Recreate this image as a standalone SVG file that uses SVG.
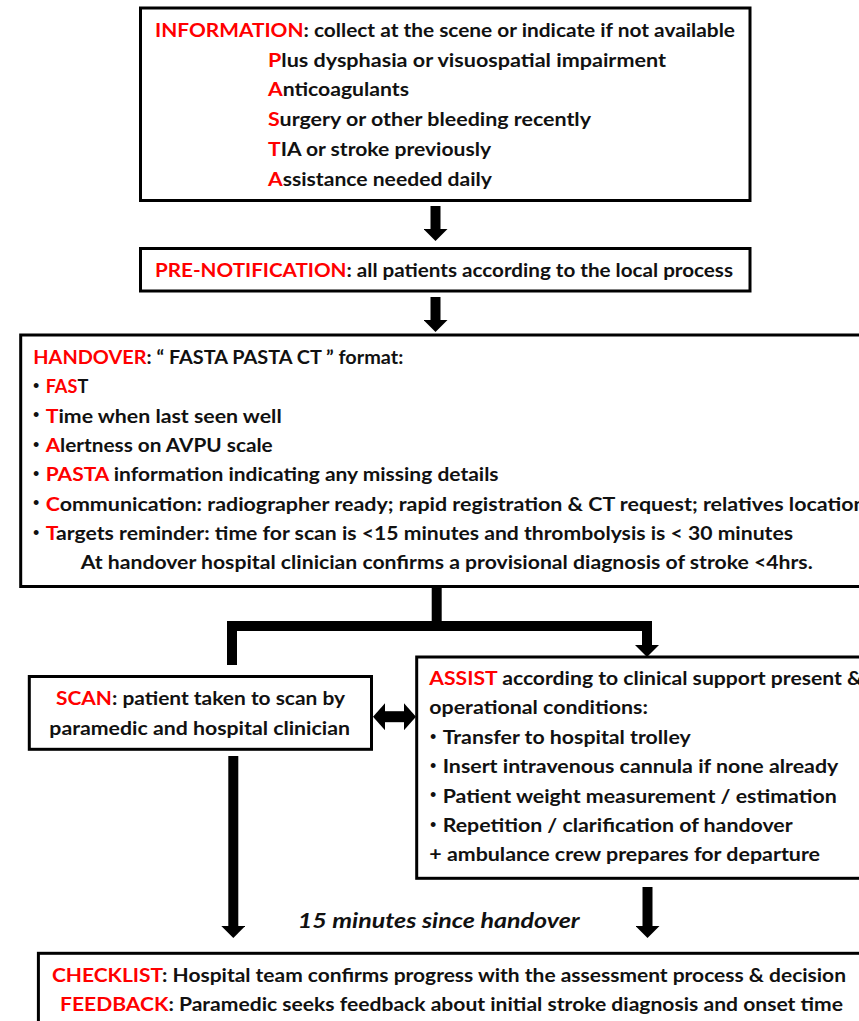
<svg xmlns="http://www.w3.org/2000/svg" width="859" height="1021" viewBox="0 0 859 1021">
<style>
.box{fill:#fff;stroke:#000;stroke-width:3}
.t{font-family:Lato,"Open Sans","Liberation Sans",sans-serif;font-weight:bold;font-size:19px;fill:#111}
.b{font-family:"Liberation Sans",sans-serif;font-size:18px;fill:#111}
.r{fill:#ff0000}
.conn{fill:none;stroke:#000;stroke-width:10;stroke-linejoin:miter}
</style>
<defs>
<marker id="ah" viewBox="0 0 12 24" refX="0" refY="12" markerWidth="12" markerHeight="24" markerUnits="userSpaceOnUse" orient="auto-start-reverse"><path d="M0,0 L12,12 L0,24 z" fill="#000"/></marker>
<marker id="ah2" viewBox="0 0 12 27" refX="0" refY="13.5" markerWidth="12" markerHeight="27" markerUnits="userSpaceOnUse" orient="auto-start-reverse"><path d="M0,0 L12,13.5 L0,27 z" fill="#000"/></marker>
</defs>
<rect width="859" height="1021" fill="#fff"/>

<g id="connectors">
<path class="conn" d="M435.5,206 V229" marker-end="url(#ah)"/>
<path class="conn" d="M435.5,297 V320" marker-end="url(#ah)"/>
<path class="conn" d="M436.7,586 V626"/>
<path class="conn" d="M232,665 V626 H647 V645" marker-end="url(#ah)"/>
<path class="conn" d="M233.3,756 V926" marker-end="url(#ah)"/>
<path class="conn" d="M647.5,887 V926" marker-end="url(#ah)"/>
<path class="conn" style="stroke-width:11" d="M385,716.7 H404" marker-start="url(#ah2)" marker-end="url(#ah2)"/>
</g>

<g id="information">
<rect class="box" x="140.5" y="8" width="609.5" height="192.5"/>
<text class="t" x="155" y="37" textLength="580" lengthAdjust="spacingAndGlyphs"><tspan class="r">INFORMATION</tspan>: collect at the scene or indicate if not available</text>
<text class="t" x="268" y="66.7" textLength="398" lengthAdjust="spacingAndGlyphs"><tspan class="r">P</tspan>lus dysphasia or visuospatial impairment</text>
<text class="t" x="268" y="96.4" textLength="141" lengthAdjust="spacingAndGlyphs"><tspan class="r">A</tspan>nticoagulants</text>
<text class="t" x="268" y="126.1" textLength="323" lengthAdjust="spacingAndGlyphs"><tspan class="r">S</tspan>urgery or other bleeding recently</text>
<text class="t" x="268" y="155.8" textLength="223" lengthAdjust="spacingAndGlyphs"><tspan class="r">T</tspan>IA or stroke previously</text>
<text class="t" x="268" y="185.5" textLength="224" lengthAdjust="spacingAndGlyphs"><tspan class="r">A</tspan>ssistance needed daily</text>
</g>

<g id="prenotification">
<rect class="box" x="140.5" y="248.5" width="609.5" height="42.5"/>
<text class="t" x="155" y="276.5" textLength="578" lengthAdjust="spacingAndGlyphs"><tspan class="r">PRE-NOTIFICATION</tspan>: all patients according to the local process</text>
</g>

<g id="handover">
<rect class="box" x="20.7" y="335" width="850" height="251.5"/>
<text class="t" x="33.3" y="364" textLength="370" lengthAdjust="spacingAndGlyphs"><tspan class="r">HANDOVER</tspan>: “ FASTA PASTA CT ” format:</text>
<text class="b" x="33" y="392">•</text>
<text class="t" x="45.7" y="393.3" textLength="42.6" lengthAdjust="spacingAndGlyphs"><tspan class="r">FAS</tspan>T</text>
<text class="b" x="33" y="421.3">•</text>
<text class="t" x="45.7" y="422.6" textLength="236" lengthAdjust="spacingAndGlyphs"><tspan class="r">T</tspan>ime when last seen well</text>
<text class="b" x="33" y="450.6">•</text>
<text class="t" x="45.7" y="451.9" textLength="227" lengthAdjust="spacingAndGlyphs"><tspan class="r">A</tspan>lertness on AVPU scale</text>
<text class="b" x="33" y="479.9">•</text>
<text class="t" x="45.7" y="481.2" textLength="452.9" lengthAdjust="spacingAndGlyphs"><tspan class="r">PASTA</tspan> information indicating any missing details</text>
<text class="b" x="33" y="509.2">•</text>
<text class="t" x="45.7" y="510.5" textLength="820" lengthAdjust="spacingAndGlyphs"><tspan class="r">C</tspan>ommunication: radiographer ready; rapid registration &amp; CT request; relatives location</text>
<text class="b" x="33" y="538.5">•</text>
<text class="t" x="45.7" y="539.8" textLength="747.3" lengthAdjust="spacingAndGlyphs"><tspan class="r">T</tspan>argets reminder: time for scan is &lt;15 minutes and thrombolysis is &lt; 30 minutes</text>
<text class="t" x="80.7" y="569" textLength="732" lengthAdjust="spacingAndGlyphs">At handover hospital clinician confirms a provisional diagnosis of stroke &lt;4hrs.</text>
</g>

<g id="scan">
<rect class="box" x="29.3" y="676.5" width="342.2" height="72.8"/>
<text class="t" x="56" y="705" textLength="289" lengthAdjust="spacingAndGlyphs"><tspan class="r">SCAN</tspan>: patient taken to scan by</text>
<text class="t" x="49.3" y="735" textLength="300.7" lengthAdjust="spacingAndGlyphs">paramedic and hospital clinician</text>
</g>

<g id="assist">
<rect class="box" x="416.7" y="657" width="450" height="221.3"/>
<text class="t" x="429.3" y="685" textLength="433" lengthAdjust="spacingAndGlyphs"><tspan class="r">ASSIST</tspan> according to clinical support present &amp;</text>
<text class="t" x="429.3" y="714.4" textLength="218.7" lengthAdjust="spacingAndGlyphs">operational conditions:</text>
<text class="b" x="430" y="742.5">•</text>
<text class="t" x="442.7" y="743.8" textLength="248" lengthAdjust="spacingAndGlyphs">Transfer to hospital trolley</text>
<text class="b" x="430" y="771.9">•</text>
<text class="t" x="442.7" y="773.2" textLength="395.6" lengthAdjust="spacingAndGlyphs">Insert intravenous cannula if none already</text>
<text class="b" x="430" y="801.3">•</text>
<text class="t" x="442.7" y="802.6" textLength="394" lengthAdjust="spacingAndGlyphs">Patient weight measurement / estimation</text>
<text class="b" x="430" y="830.7">•</text>
<text class="t" x="442.7" y="832" textLength="350" lengthAdjust="spacingAndGlyphs">Repetition / clarification of handover</text>
<text class="t" x="429.3" y="861.4" textLength="390.7" lengthAdjust="spacingAndGlyphs">+ ambulance crew prepares for departure</text>
</g>

<g id="timing-label">
<text class="t" x="297.7" y="928" style="font-style:italic;font-size:21px" textLength="282" lengthAdjust="spacingAndGlyphs">15 minutes since handover</text>
</g>

<g id="checklist">
<rect class="box" x="38.4" y="953.3" width="830" height="80"/>
<text class="t" x="52" y="982" textLength="794" lengthAdjust="spacingAndGlyphs"><tspan class="r">CHECKLIST</tspan>: Hospital team confirms progress with the assessment process &amp; decision</text>
<text class="t" x="60" y="1011" textLength="783" lengthAdjust="spacingAndGlyphs"><tspan class="r">FEEDBACK</tspan>: Paramedic seeks feedback about initial stroke diagnosis and onset time</text>
</g>
</svg>
